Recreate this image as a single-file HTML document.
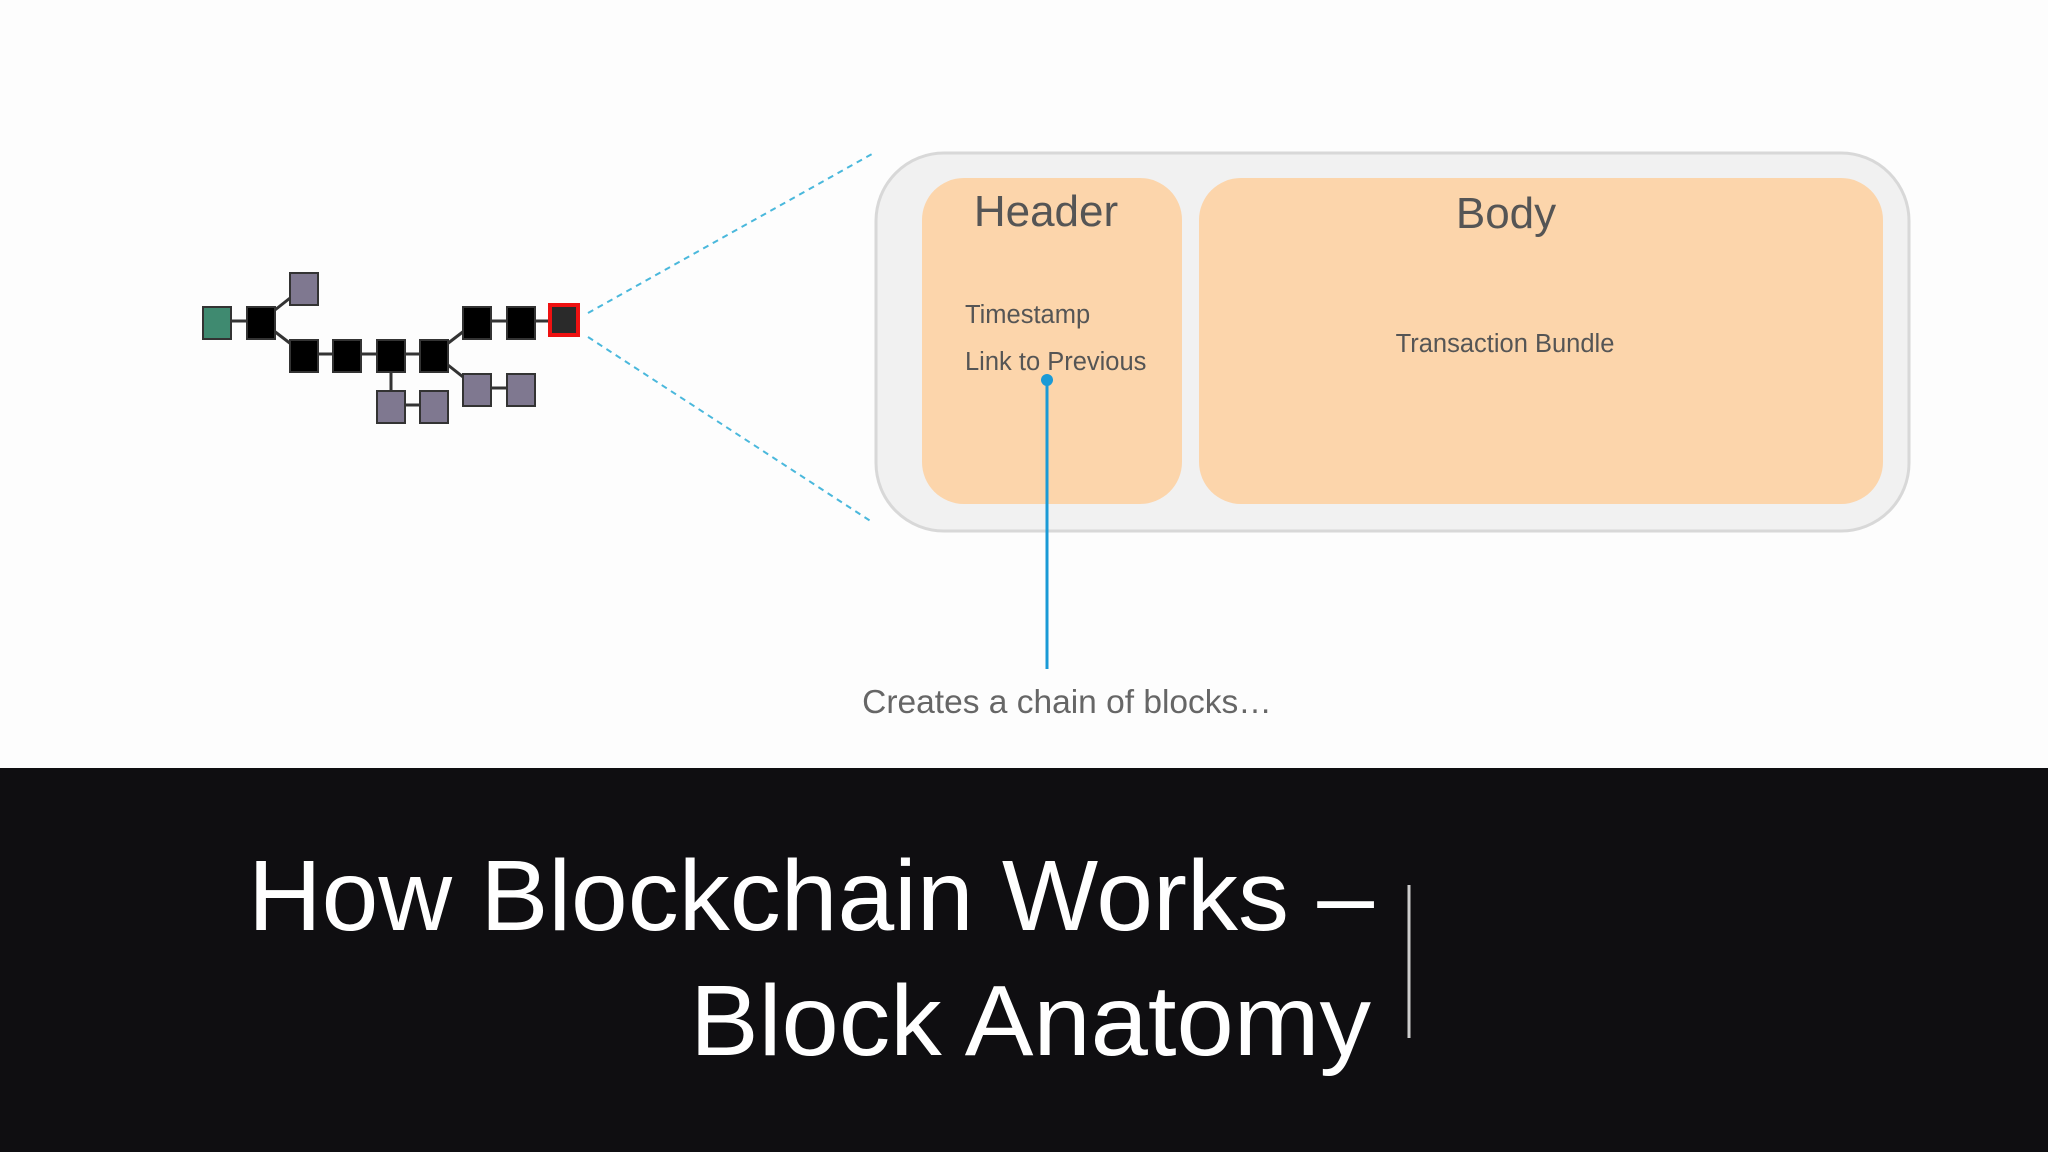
<!DOCTYPE html>
<html><head><meta charset="utf-8"><style>
html,body{margin:0;padding:0;background:#fdfdfd;}
svg{display:block;}
</style></head><body>
<svg width="2048" height="1152" viewBox="0 0 2048 1152" xmlns="http://www.w3.org/2000/svg">
<rect x="0" y="0" width="2048" height="768" fill="#fdfdfd"/>
<g stroke="#333" stroke-width="3" fill="none">
<line x1="217" y1="321" x2="261" y2="321"/>
<line x1="261" y1="321" x2="304" y2="287"/>
<line x1="261" y1="321" x2="304" y2="354"/>
<line x1="304" y1="354" x2="434" y2="354"/>
<line x1="434" y1="354" x2="477" y2="321"/>
<line x1="434" y1="354" x2="477" y2="388"/>
<line x1="477" y1="321" x2="562" y2="321"/>
<line x1="477" y1="388" x2="521" y2="388"/>
<line x1="391" y1="354" x2="391" y2="405"/>
<line x1="391" y1="405" x2="434" y2="405"/>
</g>
<g stroke="#333" stroke-width="2">
<rect x="203" y="307" width="28" height="32" fill="#3f8a70"/>
<rect x="247" y="307" width="28" height="32" fill="#000"/>
<rect x="290" y="273" width="28" height="32" fill="#7f7890"/>
<rect x="290" y="340" width="28" height="32" fill="#000"/>
<rect x="333" y="340" width="28" height="32" fill="#000"/>
<rect x="377" y="340" width="28" height="32" fill="#000"/>
<rect x="420" y="340" width="28" height="32" fill="#000"/>
<rect x="463" y="307" width="28" height="32" fill="#000"/>
<rect x="507" y="307" width="28" height="32" fill="#000"/>
<rect x="377" y="391" width="28" height="32" fill="#7f7890"/>
<rect x="420" y="391" width="28" height="32" fill="#7f7890"/>
<rect x="463" y="374" width="28" height="32" fill="#7f7890"/>
<rect x="507" y="374" width="28" height="32" fill="#7f7890"/>
</g>
<rect x="550" y="305" width="28" height="30" fill="#2a2a2a" stroke="#ee1111" stroke-width="4"/>
<g stroke="#4ab8dc" stroke-width="2" stroke-dasharray="6,5">
<line x1="588" y1="313" x2="872" y2="154"/>
<line x1="588" y1="337" x2="872" y2="522"/>
</g>
<rect x="876" y="153" width="1033" height="378" rx="68" fill="#f1f1f1" stroke="#d8d8d8" stroke-width="3"/>
<rect x="922" y="178" width="260" height="326" rx="42" fill="#fcd5ab"/>
<rect x="1199" y="178" width="684" height="326" rx="42" fill="#fcd5ab"/>
<g font-family="Liberation Sans, sans-serif" fill="#555">
<text x="1046" y="226" font-size="44" text-anchor="middle">Header</text>
<text x="1506" y="228" font-size="44" text-anchor="middle">Body</text>
<text x="965" y="323" font-size="25.5">Timestamp</text>
<text x="965" y="370" font-size="25.5">Link to Previous</text>
<text x="1505" y="352" font-size="25.5" text-anchor="middle">Transaction Bundle</text>
<text x="1067" y="713" font-size="33.5" text-anchor="middle" fill="#666">Creates a chain of blocks…</text>
</g>
<line x1="1047" y1="380" x2="1047" y2="669" stroke="#1a9ad6" stroke-width="3"/>
<circle cx="1047" cy="380" r="6" fill="#1a9ad6"/>
<rect x="0" y="768" width="2048" height="384" fill="#0f0e11"/>
<g font-family="Liberation Sans, sans-serif" fill="#fff">
<text x="1374" y="930" font-size="100" text-anchor="end" textLength="1126" lengthAdjust="spacingAndGlyphs">How Blockchain Works –</text>
<text x="1371" y="1055" font-size="100" text-anchor="end" textLength="681" lengthAdjust="spacingAndGlyphs">Block Anatomy</text>
</g>
<line x1="1409" y1="885" x2="1409" y2="1038" stroke="#ccc" stroke-width="3"/>
</svg>
</body></html>
